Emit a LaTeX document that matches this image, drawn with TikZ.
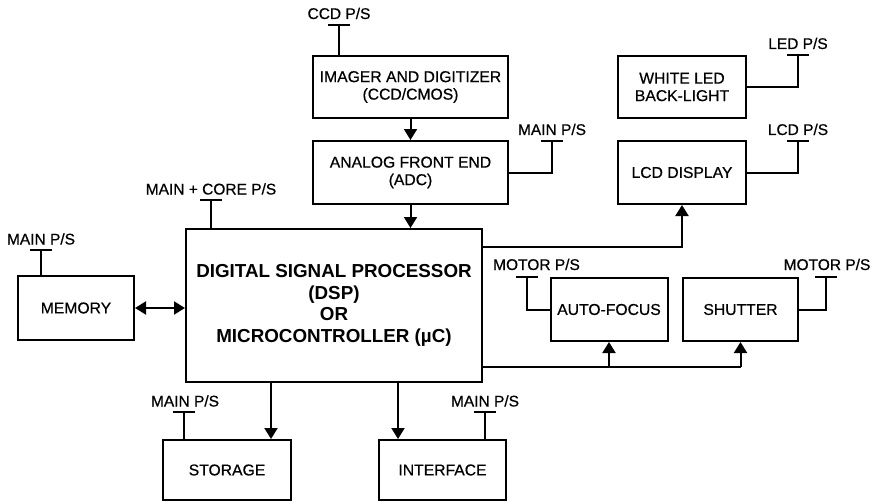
\documentclass[tikz,border=0pt]{standalone}
\usepackage{fontspec}
\setmainfont[FakeBold=0.6]{Liberation Sans}
\newfontfamily\dspfont{Liberation Sans Bold}
\usetikzlibrary{arrows.meta}
\begin{document}
\begin{tikzpicture}[x=1pt,y=-1pt,
  box/.style={draw, line width=2pt, rectangle, align=center, inner sep=0pt,
    font=\fontsize{15.7}{17.5}\selectfont},
  lbl/.style={anchor=base, inner sep=0pt, font=\fontsize{15.5}{17.5}\selectfont},
  wire/.style={line width=2pt},
  arr/.style={line width=2pt, -{Triangle[length=11pt,width=13pt]}},
  darr/.style={line width=2pt, {Triangle[length=11pt,width=13pt]}-{Triangle[length=11pt,width=13pt]}},
]
\useasboundingbox (0,0) rectangle (876,503);
% boxes
\node[box, minimum width=195, minimum height=62] (img) at (410.5,87) {IMAGER AND DIGITIZER\\(CCD/CMOS)};
\node[box, minimum width=195, minimum height=63] (adc) at (410.5,172.5) {ANALOG FRONT END\\(ADC)};
\node[box, minimum width=128, minimum height=62] (led) at (682,87) {WHITE LED\\BACK-LIGHT};
\node[box, minimum width=128, minimum height=63] (lcd) at (682,172.5) {LCD DISPLAY};
\node[box, minimum width=296, minimum height=153, font=\dspfont\fontsize{18.8}{21.7}\selectfont] (dsp) at (334,305.5)
  {DIGITAL SIGNAL PROCESSOR\\(DSP)\\OR\\MICROCONTROLLER (µC)};
\node[box, minimum width=116, minimum height=64] (mem) at (76,308) {MEMORY};
\node[box, minimum width=117, minimum height=63] (af) at (609,309.5) {AUTO-FOCUS};
\node[box, minimum width=115, minimum height=63] (sh) at (740.5,309.5) {SHUTTER};
\node[box, minimum width=128, minimum height=60] (sto) at (227,470) {STORAGE};
\node[box, minimum width=127, minimum height=60] (int) at (442.5,470) {INTERFACE};

% power stubs: bar coordinates
\coordinate (ccdB) at (339,25);
\coordinate (coreB) at (211,200);
\coordinate (adcB) at (552,141);
\coordinate (ledB) at (798,55);
\coordinate (lcdB) at (798,141);
\coordinate (memB) at (41,250);
\coordinate (mLB) at (527,277);
\coordinate (mRB) at (826,277);
\coordinate (stoB) at (184,412);
\coordinate (intB) at (485,412);

\draw[wire] (img.north -| ccdB) -- (ccdB);
\draw[wire] (dsp.north -| coreB) -- (coreB);
\draw[wire] (adc.east) -| (adcB);
\draw[wire] (led.east) -| (ledB);
\draw[wire] (lcd.east) -| (lcdB);
\draw[wire] (mem.north -| memB) -- (memB);
\draw[wire] (af.west) -| (mLB);
\draw[wire] (sh.east) -| (mRB);
\draw[wire] (sto.north -| stoB) -- (stoB);
\draw[wire] (int.north -| intB) -- (intB);
\foreach \b in {ccdB,coreB,adcB,ledB,lcdB,memB,mLB,mRB,stoB,intB}
  \draw[wire] ([xshift=-11pt]\b) -- ([xshift=11pt]\b);

% labels
\node[lbl] (ccdL) at (339,19) {CCD P/S};
\node[lbl] (coreL) at (211,194.5) {MAIN + CORE P/S};
\node[lbl] (adcL) at (552,135) {MAIN P/S};
\node[lbl] (ledL) at (798,49) {LED P/S};
\node[lbl] (lcdL) at (798,135) {LCD P/S};
\node[lbl] (memL) at (41,244.5) {MAIN P/S};
\node[lbl] (mLL) at (536.5,270) {MOTOR P/S};
\node[lbl] (mRL) at (827,270) {MOTOR P/S};
\node[lbl] (stoL) at (185,406.5) {MAIN P/S};
\node[lbl] (intL) at (485,406.5) {MAIN P/S};

% signal connectors
\coordinate (lcdA) at (0,247);
\coordinate (busA) at (0,367);
\coordinate (stoA) at (271,0);
\coordinate (intA) at (398,0);
\draw[arr] (img.south) -- (adc.north);
\draw[arr] (adc.south) -- (adc.south |- dsp.north);
\draw[darr] (mem.east) -- (mem.east -| dsp.west);
\draw[arr] (dsp.south -| stoA) -- (sto.north -| stoA);
\draw[arr] (dsp.south -| intA) -- (int.north -| intA);
\draw[arr] (dsp.east |- lcdA) -| (lcd.south);
\draw[wire] (dsp.east |- busA) -- (busA -| sh.south);
\draw[arr] (busA -| af.south) -- (af.south);
\draw[arr] (busA -| sh.south) -- (sh.south);
\end{tikzpicture}
\end{document}
